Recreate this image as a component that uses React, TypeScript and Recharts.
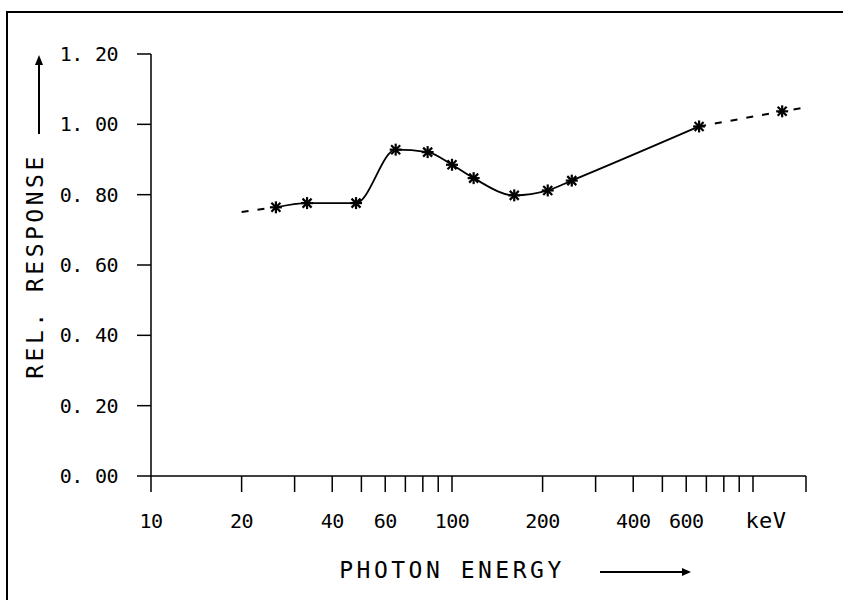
import React from "react";
import { ComposedChart, Line, Scatter, XAxis, YAxis, Label } from "recharts";

// measured points (keV, relative response)
const energies = [26, 33, 48, 65, 83, 100, 118, 161, 208, 250, 662, 1250];
const response = [0.764, 0.776, 0.776, 0.928, 0.921, 0.885, 0.847, 0.798, 0.812, 0.84, 0.994, 1.037];

// dashed extrapolations at both ends
const lowEnergies = [20, 26];
const lowResponse = [0.751, 0.764];
const highEnergies = [662, 1250, 1500];
const highResponse = [0.994, 1.037, 1.048];

const xTicks = [10, 20, 30, 40, 50, 60, 70, 80, 90, 100, 200, 300, 400, 500, 600, 700, 800, 900, 1000, 1500];
const xLabels = [10, 20, 40, 60, 100, 200, 400, 600];
const yTicks = [0, 0.2, 0.4, 0.6, 0.8, 1.0, 1.2];

const FONT = "'DejaVu Sans Mono', monospace";

const points = energies.map((e, i) => ({ e, r: response[i] }));
const solid = energies.slice(0, 11).map((e, i) => ({ e, r: response[i] }));
const low = lowEnergies.map((e, i) => ({ e, r: lowResponse[i] }));
const high = highEnergies.map((e, i) => ({ e, r: highResponse[i] }));

function Star(props: any) {
  const { cx, cy } = props;
  const d = 6;
  const k = 4.5;
  return (
    <g stroke="#000" strokeWidth={2.2}>
      <line x1={cx - d} y1={cy} x2={cx + d} y2={cy} />
      <line x1={cx} y1={cy - d} x2={cx} y2={cy + d} />
      <line x1={cx - k} y1={cy - k} x2={cx + k} y2={cy + k} />
      <line x1={cx - k} y1={cy + k} x2={cx + k} y2={cy - k} />
    </g>
  );
}

function XTick(props: any) {
  const { x, y, payload } = props;
  if (!xLabels.includes(payload.value)) return null;
  return (
    <text x={x} y={y + 36} textAnchor="middle" fontFamily={FONT} fontSize={20} letterSpacing={-0.5} fill="#000">
      {payload.value}
    </text>
  );
}

function YTick(props: any) {
  const { x, y, payload } = props;
  const [a, b] = Number(payload.value).toFixed(2).split(".");
  return (
    <text x={x} y={y + 7} textAnchor="end" fontFamily={FONT} fontSize={20} letterSpacing={-0.5} fill="#000">
      <tspan>{a}.</tspan>
      <tspan dx={12}>{b}</tspan>
    </text>
  );
}

function XTitle(props: any) {
  const vb = props.viewBox;
  const ay = vb.y + 96;
  return (
    <g>
      <text x={vb.x + 301} y={vb.y + 102} textAnchor="middle" fontFamily={FONT} fontSize={23} letterSpacing={3.5} fill="#000">
        PHOTON ENERGY
      </text>
      <line x1={vb.x + 449} y1={ay} x2={vb.x + 536} y2={ay} stroke="#000" strokeWidth={2} />
      <path d={`M${vb.x + 540},${ay} l-9,-4 l0,8 z`} fill="#000" />
      <text x={vb.x + 615} y={vb.y + 52} textAnchor="middle" fontFamily={FONT} fontSize={22} letterSpacing={0.5} fill="#000">
        keV
      </text>
    </g>
  );
}

function YTitle(props: any) {
  const vb = props.viewBox;
  const cx = vb.x + 43;
  const cy = 266;
  return (
    <g>
      <text
        x={cx}
        y={cy}
        transform={`rotate(-90 ${cx} ${cy})`}
        textAnchor="middle"
        fontFamily={FONT}
        fontSize={23}
        letterSpacing={3.5}
        fill="#000"
      >
        REL. RESPONSE
      </text>
      <line x1={vb.x + 39} y1={134} x2={vb.x + 39} y2={62} stroke="#000" strokeWidth={2} />
      <path d={`M${vb.x + 39},${55} l-4,10 l8,0 z`} fill="#000" />
    </g>
  );
}

export default function App() {
  return (
    <div style={{ position: "absolute", left: 0, top: 0, width: 843, height: 600, background: "#fff" }}>
      <div
        style={{
          position: "absolute",
          left: 6,
          top: 11,
          width: 837,
          height: 589,
          borderTop: "2px solid #000",
          borderLeft: "2px solid #000",
          boxSizing: "border-box",
        }}
      />
      <ComposedChart width={843} height={600} margin={{ top: 54, right: 37, bottom: 0, left: 0 }}>
        <XAxis
          dataKey="e"
          type="number"
          scale="log"
          domain={[10, 1500]}
          ticks={xTicks}
          interval={0}
          height={124}
          stroke="#000"
          strokeWidth={1.5}
          tickSize={16}
          tickMargin={0}
          tick={<XTick />}
          allowDataOverflow
        >
          <Label content={<XTitle />} />
        </XAxis>
        <YAxis
          dataKey="r"
          type="number"
          domain={[0, 1.2]}
          ticks={yTicks}
          interval={0}
          width={151}
          stroke="#000"
          strokeWidth={1.5}
          tickSize={14}
          tickMargin={19}
          tick={<YTick />}
        >
          <Label content={<YTitle />} />
        </YAxis>
        <Line data={low} dataKey="r" type="linear" stroke="#000" strokeWidth={2} strokeDasharray="7 9" dot={false} isAnimationActive={false} />
        <Line data={solid} dataKey="r" type="monotone" stroke="#000" strokeWidth={1.8} dot={false} isAnimationActive={false} />
        <Line data={high} dataKey="r" type="linear" stroke="#000" strokeWidth={2} strokeDasharray="7 9" dot={false} isAnimationActive={false} />
        <Scatter data={points} dataKey="r" shape={<Star />} isAnimationActive={false} />
      </ComposedChart>
    </div>
  );
}
